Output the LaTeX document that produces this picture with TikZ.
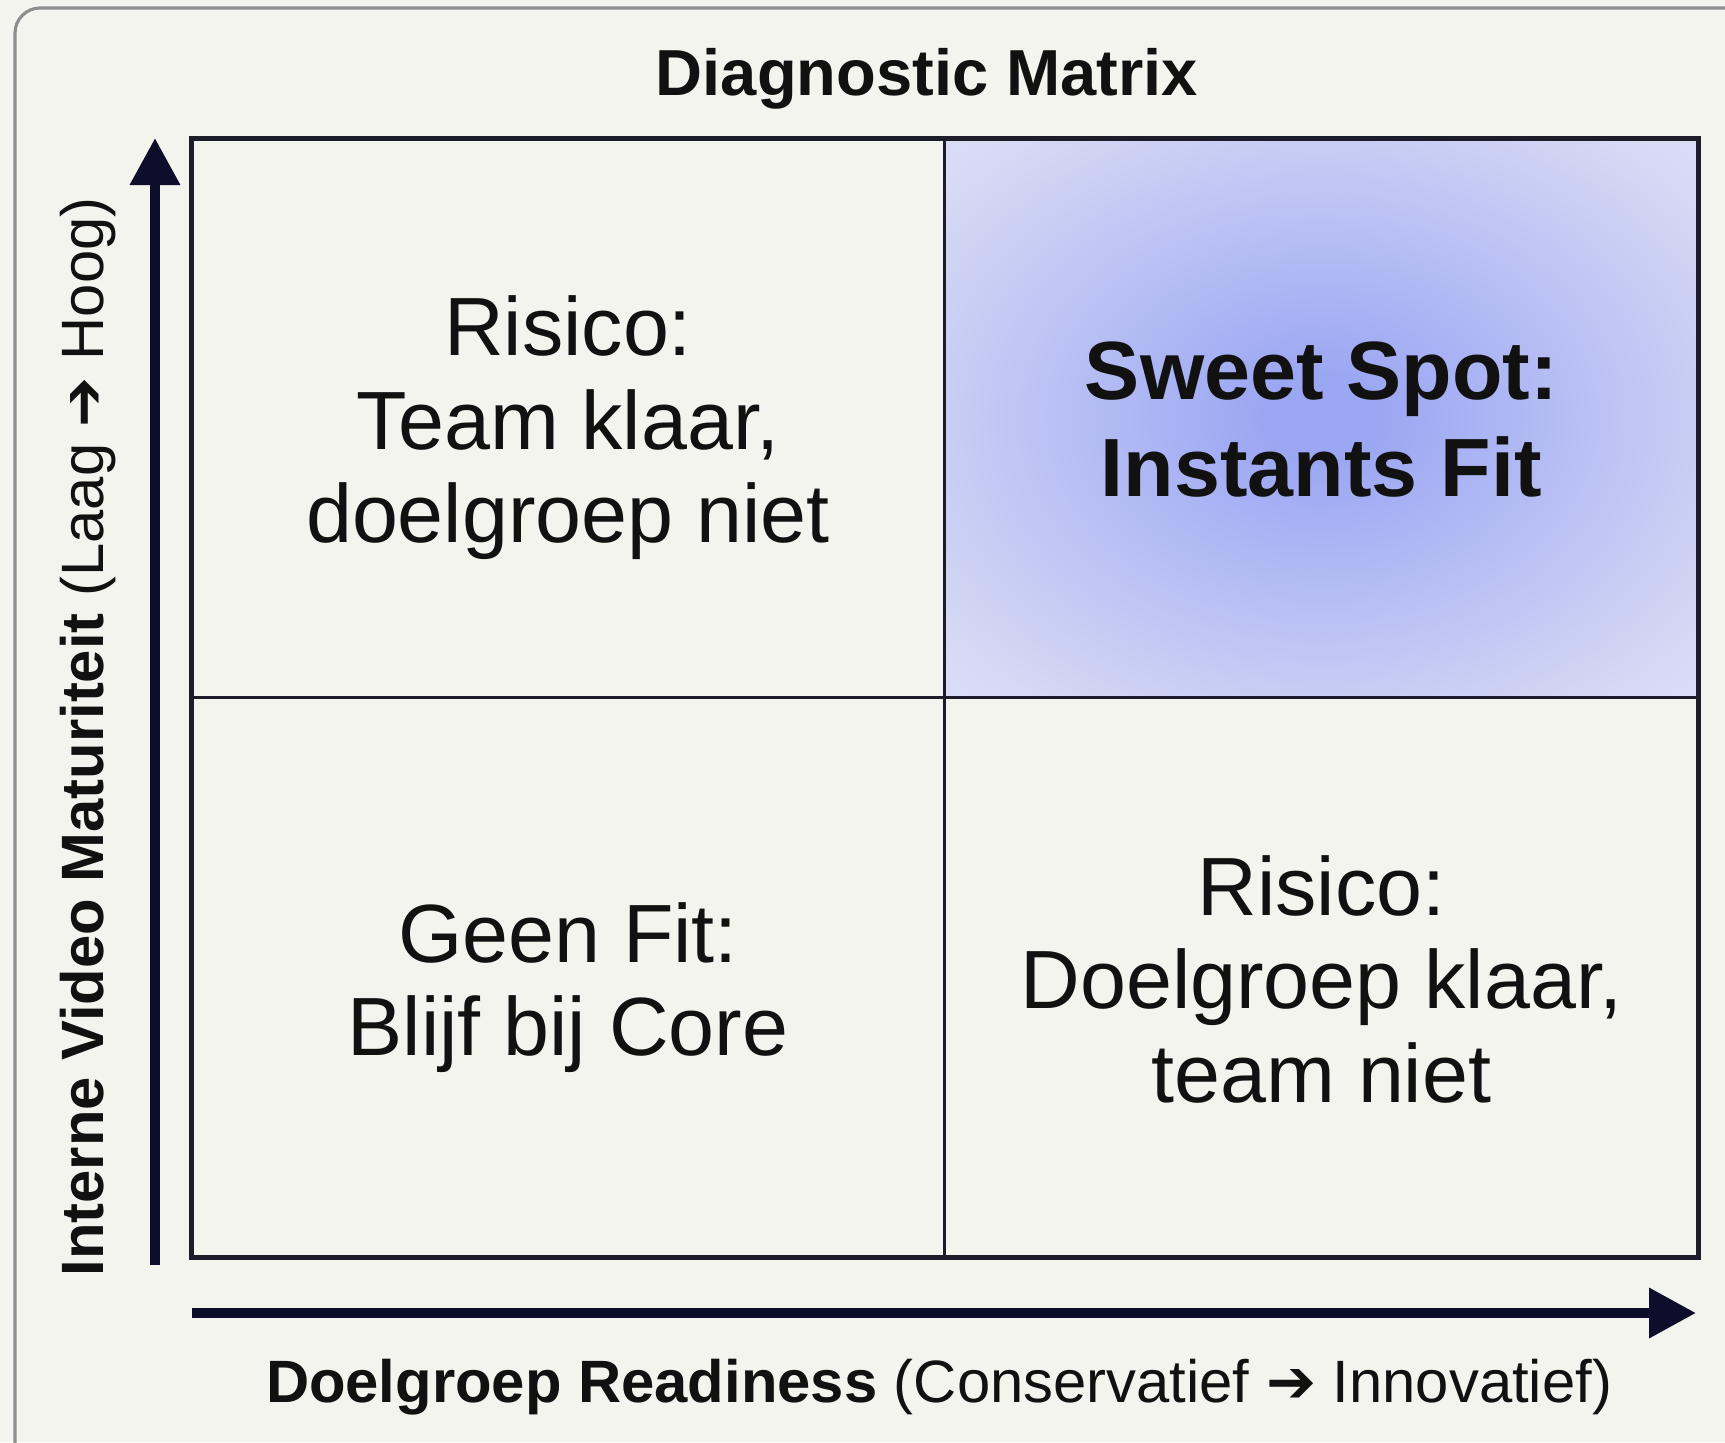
\documentclass[tikz,border=0pt]{standalone}
\usepackage{fontspec}
\setmainfont{Liberation Sans}
\newfontfamily\symfont{DejaVu Sans}
\usetikzlibrary{arrows.meta,positioning,calc}

\definecolor{paper}{HTML}{F4F4EF}
\definecolor{frame}{HTML}{8E8E8E}
\definecolor{ink}{HTML}{111111}
\definecolor{navy}{HTML}{0E0E2C}
\definecolor{gridc}{HTML}{1C1C2A}
\definecolor{glowin}{HTML}{9CA7F3}
\definecolor{glowmid}{HTML}{B8BFF4}
\definecolor{glowlow}{HTML}{D6DAF4}
\definecolor{glowout}{HTML}{E6E7F3}
\pgfdeclareradialshading{sweetglow}{\pgfpoint{0bp}{0bp}}{color(0bp)=(glowin); color(4bp)=(glowin); color(17bp)=(glowmid); color(32bp)=(glowlow); color(48bp)=(glowout); color(75bp)=(glowout)}
\newcommand{\toprule}{\rule{0pt}{18pt}}
\newcommand{\botrule}{\rule[-5pt]{0pt}{5pt}}

\begin{document}
\begin{tikzpicture}[x=0.01cm, y=-0.01cm, >={Triangle[length=0.47cm,width=0.48cm]}]
	\tikzstyle{cell}=[minimum width=7.515cm, minimum height=5.58cm, inner sep=0pt]
	\tikzstyle{celltext}=[align=center, inner sep=0pt, text=ink, yshift=-0.1cm, font=\fontsize{23.5}{26.5}\selectfont,
		execute at begin node=\toprule, execute at end node=\botrule]
	\tikzstyle{axis}=[->, draw=navy, fill=navy, line width=0.1cm]
	\tikzstyle{gridline}=[draw=gridc, line width=0.9pt]
	\tikzstyle{axislabel}=[text=ink, inner sep=0pt, anchor=base, font=\fontsize{17}{20}\selectfont]
	\useasboundingbox[fill=paper] (0,0) rectangle (1725,1442);
	\draw[frame, line width=0.9pt, rounded corners=0.25cm] (15,1500) -- (15,8) -- (1780,8);

	\node[text=ink, font=\fontsize{18.5}{22}\selectfont\bfseries] (title) at (927,79) {Diagnostic Matrix};

	% quadrants
	\node[cell] (tl) at (568,418) {};
	\node[cell, shade, shading=sweetglow] (tr) [right=0pt of tl] {};
	\node[cell] (bl) [below=0pt of tl] {};
	\node[cell] (br) [below=0pt of tr] {};

	\node[celltext] (tltext) at (tl) {Risico:\\Team klaar,\\doelgroep niet};
	\node[celltext, font={\fontsize{23.5}{27.5}\selectfont\bfseries}] (trtext) at (tr) {Sweet Spot:\\Instants Fit};
	\node[celltext] (bltext) at (bl) {Geen Fit:\\Blijf bij Core};
	\node[celltext] (brtext) at (br) {Risico:\\Doelgroep klaar,\\team niet};

	\draw[gridline] (tl.north east) -- (bl.south east);
	\draw[gridline] (tl.south west) -- (tr.south east);
	\draw[gridline, line width=1.4pt] (tl.north west) rectangle (br.south east);

	% axes
	\coordinate (ybot) at (155,1265);
	\coordinate (ytop) at (155,138);
	\coordinate (xleft) at (192,1313);
	\coordinate (xright) at (1696,1313);
	\path (ybot) edge[axis] (ytop)
	      (xleft) edge[axis] (xright);

	\node[axislabel, rotate=90] (ylab) at (103,737) {\textbf{Interne Video Maturiteit} (Laag {\symfont ➔} Hoog)};
	\node[axislabel] (xlab) at (939,1402) {\textbf{Doelgroep Readiness} (Conservatief {\symfont ➔} Innovatief)};
\end{tikzpicture}
\end{document}
